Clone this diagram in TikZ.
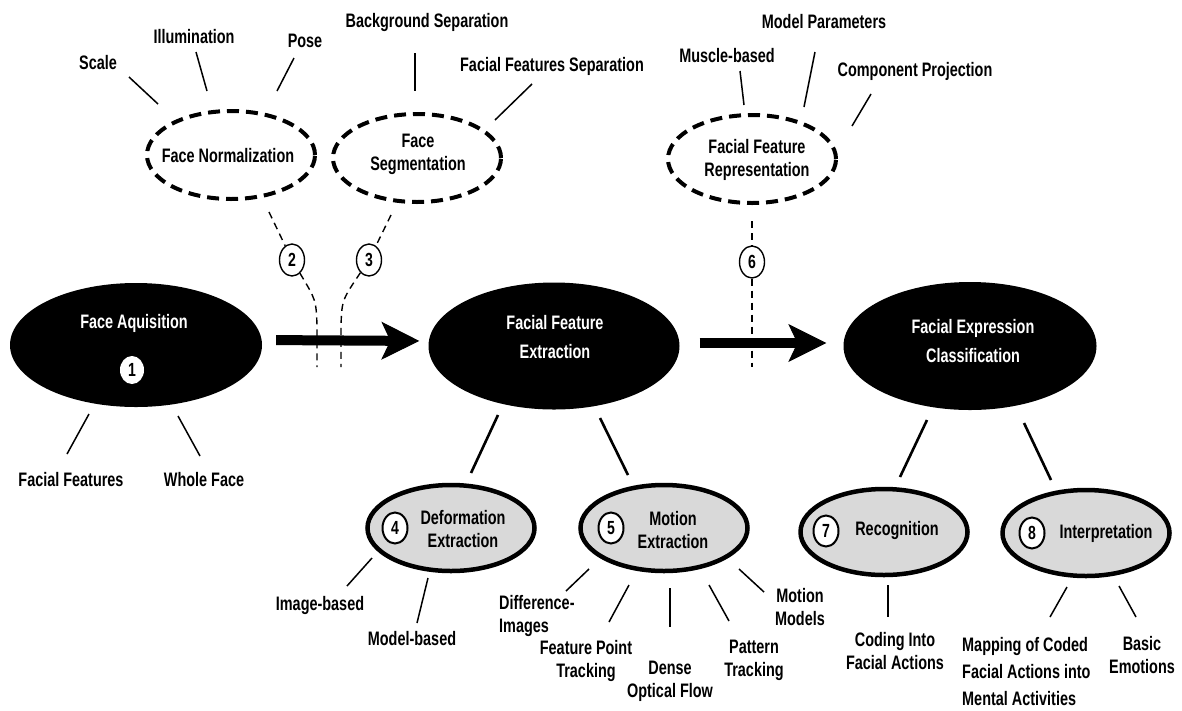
\documentclass[tikz,border=0pt]{standalone}
\usepackage{fontspec}
\setmainfont{Liberation Sans}[FakeStretch=0.74]
\usetikzlibrary{shapes.geometric,arrows.meta,calc}
\definecolor{ovalgray}{HTML}{D9D9D9}
\begin{document}
\begin{tikzpicture}[x=1pt,y=-1pt,
  txt/.style={font=\bfseries\fontsize{19.5}{23}\selectfont, align=center, inner sep=0pt},
  wtxt/.style={txt, text=white, font=\bfseries\fontsize{19.5}{29}\selectfont},
  solidoval/.style={ellipse, fill=black, inner sep=0pt},
  dashoval/.style={ellipse, draw, line width=4pt, dash pattern=on 12pt off 7pt, inner sep=0pt},
  grayoval/.style={ellipse, draw, line width=4.5pt, fill=ovalgray, inner sep=0pt},
  numthin/.style={ellipse, draw, fill=white, inner sep=0pt, minimum width=25, minimum height=32,
    line width=1.4pt, font=\bfseries\fontsize{19}{19}\selectfont},
  numthick/.style={numthin, line width=2pt, minimum width=25, minimum height=31},
  numwhite/.style={ellipse, fill=white, inner sep=0pt, minimum width=24, minimum height=28,
    font=\bfseries\fontsize{19}{19}\selectfont},
  conn/.style={line width=1.5pt},
  heavyconn/.style={line width=2.6pt},
  thindash/.style={line width=1.4pt, dash pattern=on 7pt off 5pt},
  bigarrow/.style={line width=10pt, -{Stealth[length=38pt,width=38pt,inset=9pt,line width=1pt]}}
]
\useasboundingbox (0,0) rectangle (1182,710);
\fill[white] (0,0) rectangle (1182,710);

% ---- main stages ----
\node[solidoval, minimum width=252, minimum height=124] (fa) at (136,345) {};
\node[wtxt] (fatxt) at (134,323) {Face Aquisition};
\node[numwhite] (n1) at (132,370) {1};

\node[solidoval, minimum width=251, minimum height=127] (ffe) at (554,346) {};
\node[wtxt] (ffetxt) at (555,337) {Facial Feature\\Extraction};

\node[solidoval, minimum width=253, minimum height=128] (fec) at (970,346) {};
\node[wtxt] (fectxt) at (973,341) {Facial Expression\\Classification};

% ---- preprocessing steps ----
\node[dashoval, minimum width=168, minimum height=88] (fn) at (231,155) {};
\node[txt] (fntxt) at (228,156) {Face Normalization};
\node[dashoval, minimum width=168, minimum height=88] (fs) at (417,158) {};
\node[txt] (fstxt) at (418,154) {Face\\Segmentation};
\node[dashoval, minimum width=168, minimum height=88] (ffr) at (752,159) {};
\node[txt] (ffrtxt) at (757,160) {Facial Feature\\Representation};

% ---- sub-stages ----
\node[grayoval, minimum width=167, minimum height=86] (de) at (451,528) {};
\node[numthick] (n4) at (395,528) {4};
\node[txt] (detxt) at (463,529) {Deformation\\Extraction};

\node[grayoval, minimum width=167, minimum height=86] (me) at (664,528) {};
\node[numthick] (n5) at (611,528) {5};
\node[txt] (metxt) at (673,530) {Motion\\Extraction};

\node[grayoval, minimum width=167, minimum height=86] (rec) at (884,532) {};
\node[numthick] (n7) at (826,531) {7};
\node[txt] (rectxt) at (897,530) {Recognition};

\node[grayoval, minimum width=167, minimum height=86] (int) at (1086,533) {};
\node[numthick] (n8) at (1032,533) {8};
\node[txt] (inttxt) at (1106,533) {Interpretation};

% ---- labels ----
\node[txt] (scale) at (98,63) {Scale};
\node[txt] (illum) at (194,37) {Illumination};
\node[txt] (pose) at (305,41) {Pose};
\node[txt] (bgs) at (427,22) {Background Separation};
\node[txt] (ffs) at (552,66) {Facial Features Separation};
\node[txt] (muscle) at (727,56) {Muscle-based};
\node[txt] (modelp) at (824,22) {Model Parameters};
\node[txt] (comp) at (915,71) {Component Projection};
\node[txt] (facfeat) at (71,480) {Facial Features};
\node[txt] (whole) at (204,480) {Whole Face};
\node[txt] (imgb) at (320,605) {Image-based};
\node[txt] (modelb) at (412,639) {Model-based};
\node[txt, align=left, anchor=west] (diff) at (499,616) {Difference-\\Images};
\node[txt] (fpt) at (586,661) {Feature Point\\Tracking};
\node[txt] (dof) at (670,681) {Dense\\Optical Flow};
\node[txt] (patt) at (754,660) {Pattern\\Tracking};
\node[txt] (motmod) at (800,607) {Motion\\Models};
\node[txt] (coding) at (895,651) {Coding Into\\Facial Actions};
\node[txt, align=left, anchor=west, font=\bfseries\fontsize{19.5}{27}\selectfont] (mapping) at (962,672)
  {Mapping of Coded\\Facial Actions into\\Mental Activities};
\node[txt] (basic) at (1142,655) {Basic\\Emotions};

% ---- step markers on dashed links ----
\node[numthin] (n2) at (292,260) {2};
\node[numthin] (n3) at (369,260) {3};
\node[numthin] (n6) at (752,262) {6};
\coordinate (c2) at (317,367);
\coordinate (c3) at (341,367);
\coordinate (c6) at (752,367);

% ---- flow arrows ----
\draw[bigarrow, shorten <=14pt, shorten >=9pt] ([yshift=5pt]fa.east) -- ([yshift=5pt]ffe.west);
\draw[bigarrow, shorten <=20pt, shorten >=17pt] ([yshift=3pt]ffe.east) -- ([yshift=3pt]fec.west);

% ---- dashed links ----
\draw[thindash] ($(fn)+(38,57)$) -- (n2);
\draw[thindash] (n2) .. controls (316,300) .. (317,325) -- (c2);
\draw[thindash] ($(fs)+(-26,57)$) -- (n3);
\draw[thindash] (n3) .. controls (342,300) .. (341,325) -- (c3);
\draw[thindash] ($(ffr)+(0,62)$) -- (n6);
\draw[thindash] (n6) -- (c6);

% ---- label connectors ----
\draw[conn] ($(scale)+(31,14)$) -- ($(fn)+(-73,-51)$);
\draw[conn] ($(illum)+(2,15)$) -- ($(fn)+(-24,-64)$);
\draw[conn] ($(pose)+(-11,17)$) -- ($(fn)+(46,-64)$);
\draw[conn] ($(bgs)+(-12,31)$) -- ($(fs)+(-2,-67)$);
\draw[conn] ($(ffs)+(-20,18)$) -- ($(fs)+(78,-38)$);
\draw[conn] ($(muscle)+(13,15)$) -- ($(ffr)+(-8,-54)$);
\draw[conn] ($(modelp)+(-9,30)$) -- ($(ffr)+(52,-52)$);
\draw[conn] ($(comp)+(-44,23)$) -- ($(ffr)+(100,-33)$);
\draw[conn] ($(fa)+(-47,69)$) -- ($(facfeat)+(-4,-26)$);
\draw[conn] ($(fa)+(42,71)$) -- ($(whole)+(-4,-24)$);
\draw[heavyconn] ($(ffe)+(-56,69)$) -- ($(de)+(20,-55)$);
\draw[heavyconn] ($(ffe)+(46,72)$) -- ($(me)+(-36,-53)$);
\draw[heavyconn] ($(fec)+(-43,74)$) -- ($(rec)+(16,-55)$);
\draw[heavyconn] ($(fec)+(54,77)$) -- ($(int)+(-35,-53)$);
\draw[conn] ($(de)+(-79,30)$) -- ($(imgb)+(27,-19)$);
\draw[conn] ($(de)+(-23,50)$) -- ($(modelb)+(5,-16)$);
\draw[conn] ($(me)+(-75,41)$) -- ($(diff.west)+(67,-25)$);
\draw[conn] ($(me)+(-35,57)$) -- ($(fpt)+(23,-39)$);
\draw[conn] ($(me)+(6,60)$) -- ($(dof)+(0,-54)$);
\draw[conn] ($(me)+(45,57)$) -- ($(patt)+(-25,-39)$);
\draw[conn] ($(me)+(75,41)$) -- ($(motmod)+(-36,-15)$);
\draw[conn] ($(rec)+(4,53)$) -- ($(coding)+(-7,-34)$);
\draw[conn] ($(int)+(-19,54)$) -- ($(mapping.west)+(88,-55)$);
\draw[conn] ($(int)+(33,53)$) -- ($(basic)+(-6,-38)$);
\end{tikzpicture}
\end{document}
